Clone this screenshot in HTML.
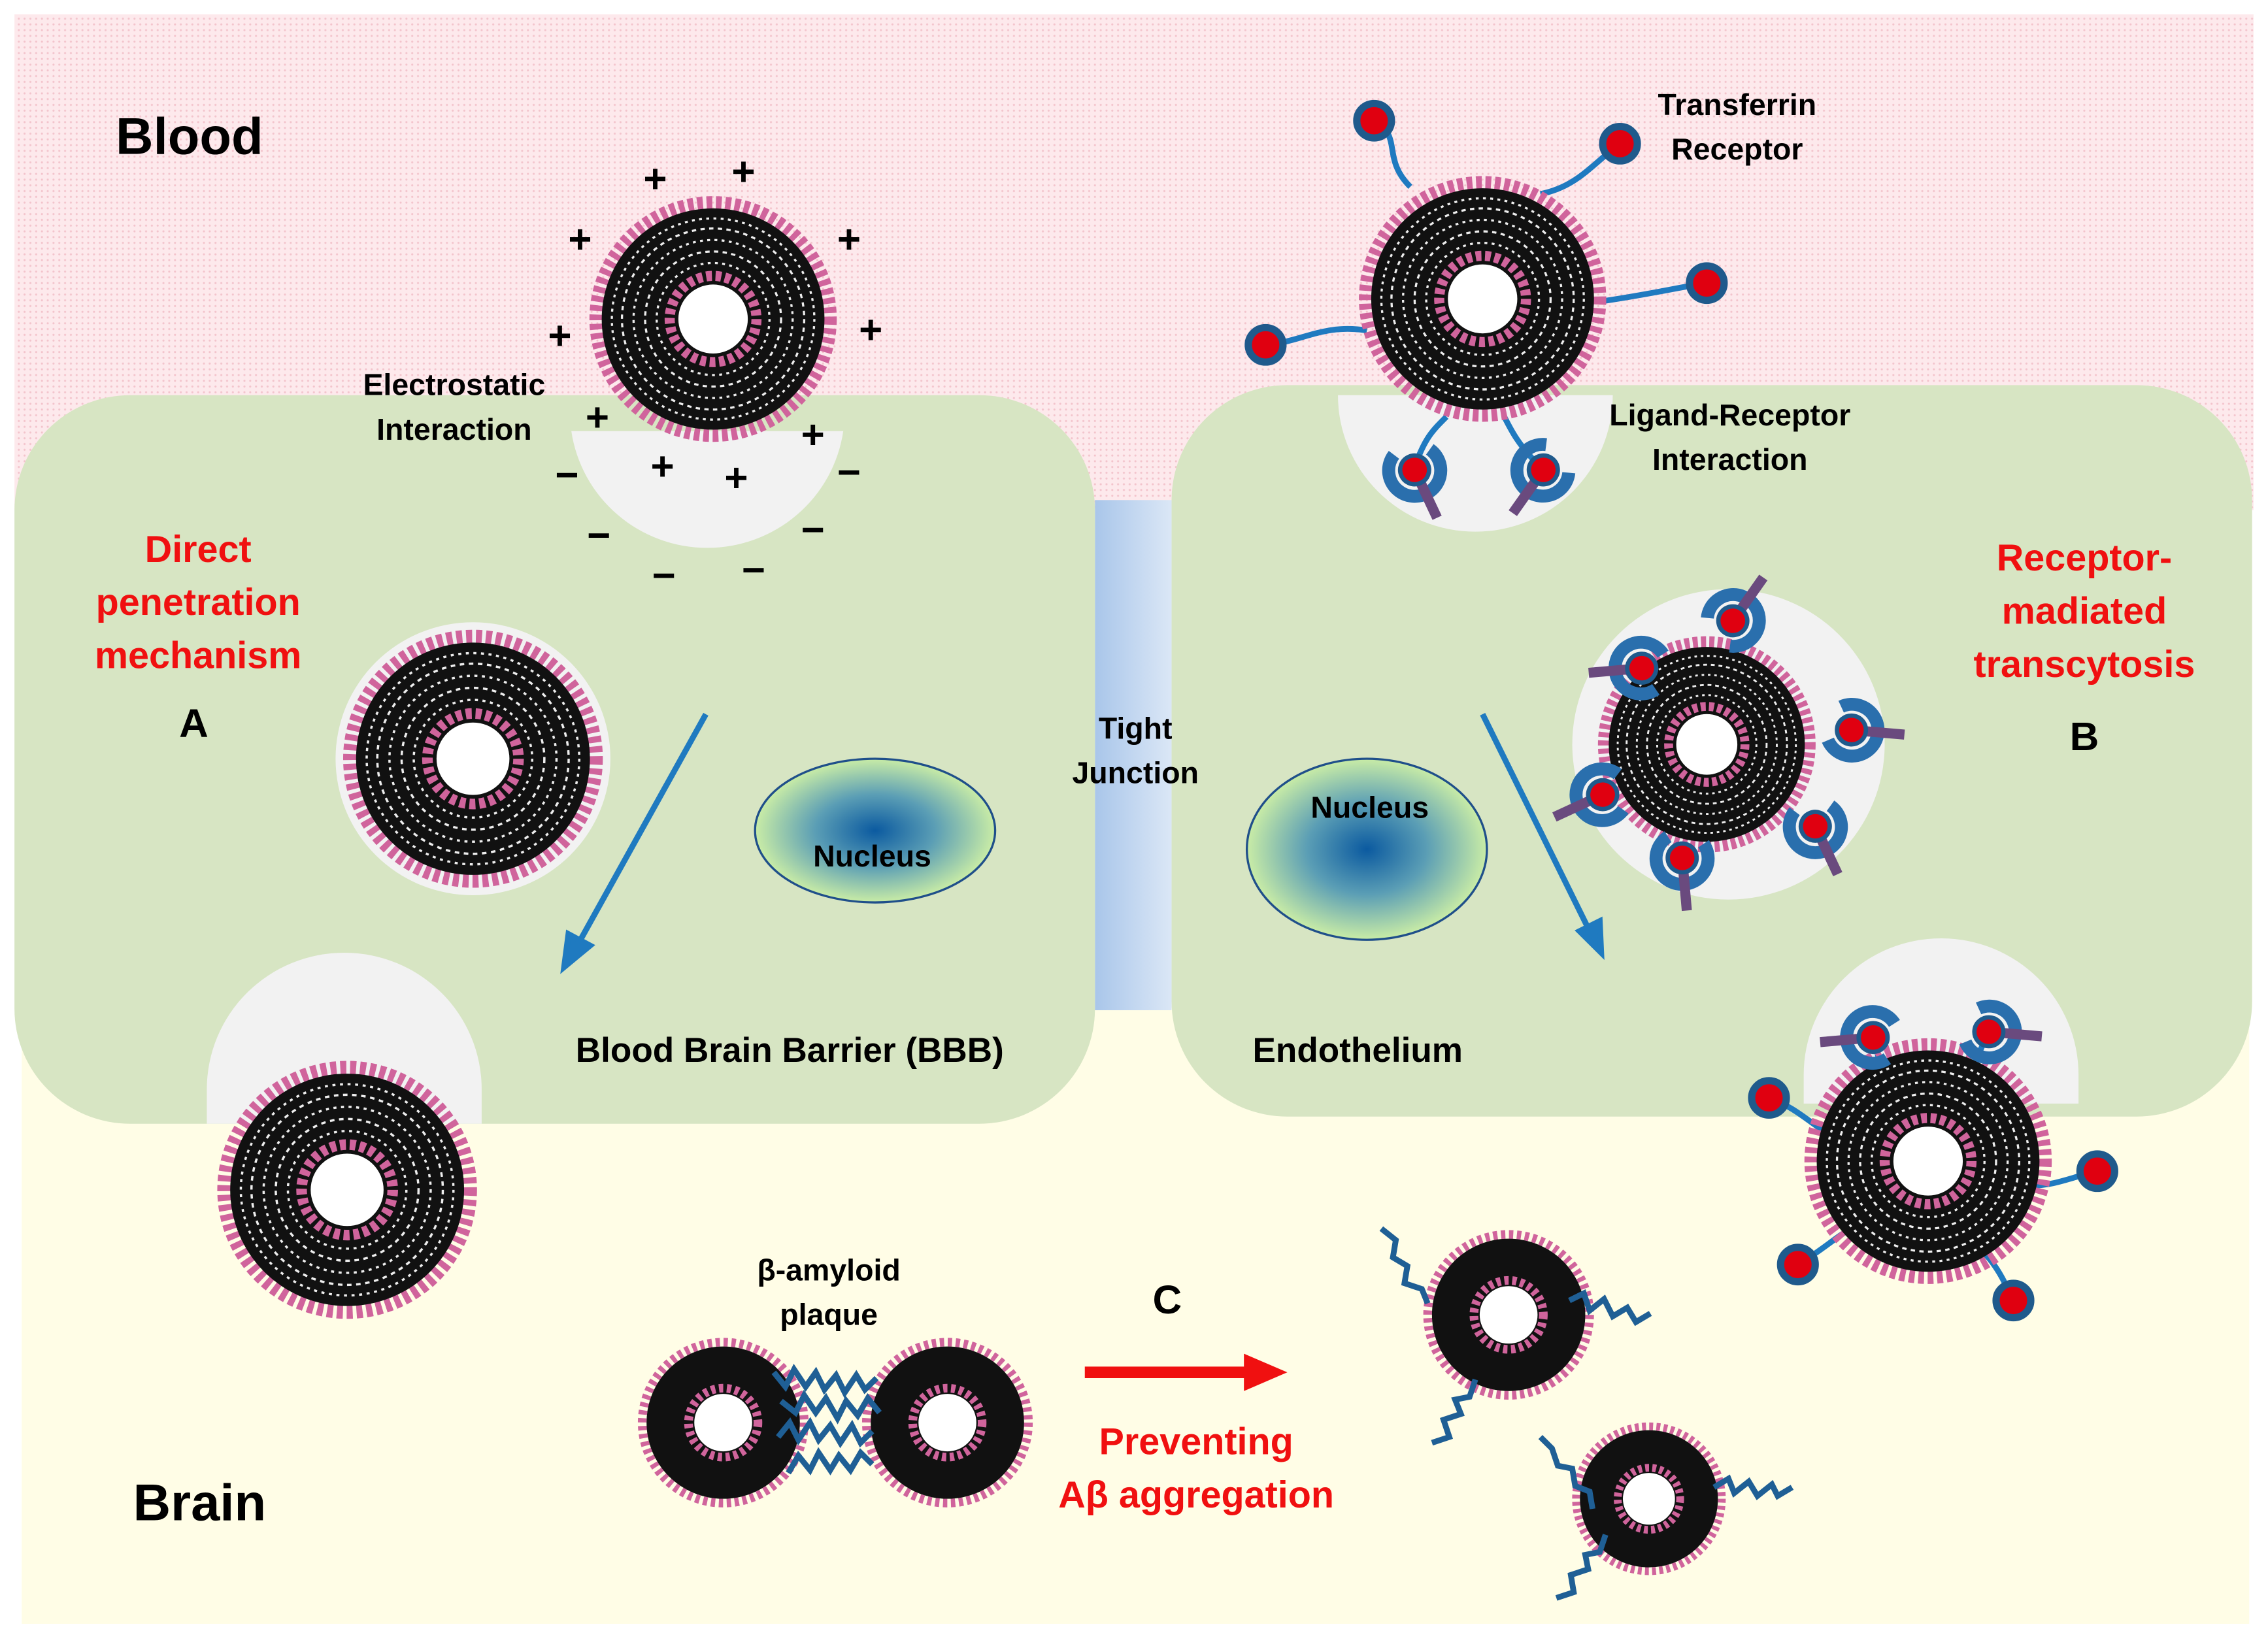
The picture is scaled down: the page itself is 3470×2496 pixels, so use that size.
<!DOCTYPE html>
<html><head><meta charset="utf-8"><style>
html,body{margin:0;padding:0;background:#fff;}
svg{display:block;}
text{font-family:"Liberation Sans",sans-serif;font-weight:bold;}
</style></head><body>
<svg width="3470" height="2496" viewBox="0 0 1568 1135" preserveAspectRatio="none" xmlns="http://www.w3.org/2000/svg">
<defs>
<pattern id="dots" width="4" height="4" patternUnits="userSpaceOnUse"><rect width="4" height="4" fill="#fde9ec"/><circle cx="1" cy="1" r="0.7" fill="#f3c4cc"/></pattern>
<linearGradient id="tj" x1="0" x2="1"><stop offset="0" stop-color="#a9c6ea"/><stop offset="1" stop-color="#dbe7f6"/></linearGradient>
<radialGradient id="nuc"><stop offset="0" stop-color="#0b5aa0"/><stop offset="0.5" stop-color="#5b9eb5"/><stop offset="1" stop-color="#c9eca6"/></radialGradient>
<g id="lip">
<circle r="81" fill="none" stroke="#d0649c" stroke-width="9" stroke-dasharray="4 2.5"/>
<circle r="77" fill="#111"/>
<circle r="70" fill="none" stroke="#eee" stroke-width="1.5" stroke-dasharray="2 3"/>
<circle r="63" fill="none" stroke="#eee" stroke-width="1.5" stroke-dasharray="3 3"/>
<circle r="55" fill="none" stroke="#eee" stroke-width="1.5" stroke-dasharray="2 3"/>
<circle r="47" fill="none" stroke="#eee" stroke-width="1.5" stroke-dasharray="3 3"/>
<circle r="39" fill="none" stroke="#eee" stroke-width="1.5" stroke-dasharray="2 3"/>
<circle r="30" fill="none" stroke="#d0649c" stroke-width="7" stroke-dasharray="4 2.5"/>
<circle r="24" fill="#fff"/>
</g>
<g id="lip2">
<circle r="56" fill="none" stroke="#d0649c" stroke-width="6" stroke-dasharray="3 2.5"/>
<circle r="53" fill="#111"/>
<circle r="24" fill="none" stroke="#d0649c" stroke-width="6" stroke-dasharray="3 2.5"/>
<circle r="20" fill="#fff"/>
</g>
<g id="rd"><circle r="12" fill="#e00010" stroke="#1f5a8c" stroke-width="5"/></g>
<g id="cup"><path d="M-17,-5 A18,18 0 1,0 5,-17" fill="none" stroke="#2a6fad" stroke-width="9"/><line x1="0" y1="0" x2="26" y2="26" stroke="#6a4a7e" stroke-width="7"/><circle r="10" fill="#e00010" stroke="#1f5a8c" stroke-width="3"/></g>
</defs>
<rect width="1568" height="1135" fill="#fff"/>
<rect x="10" y="10" width="1548" height="345" fill="url(#dots)"/>
<rect x="15" y="700" width="1540" height="430" fill="#fffde6"/>
<rect x="757" y="348" width="53" height="355" fill="url(#tj)"/>
<rect x="10" y="275" width="747" height="507" rx="80" fill="#d7e5c3"/>
<rect x="810" y="268" width="747" height="509" rx="80" fill="#d7e5c3"/>
<path d="M395,300 A95,95 0 0,0 583,300 Z" fill="#f2f2f2"/>
<circle cx="327" cy="528" r="95" fill="#f2f2f2"/>
<path d="M143,782 L143,758 A95,95 0 0,1 333,758 L333,782 Z" fill="#f2f2f2"/>
<path d="M925,275 A95,95 0 0,0 1115,275 Z" fill="#f2f2f2"/>
<circle cx="1195" cy="518" r="108" fill="#f2f2f2"/>
<path d="M1247,768 L1247,748 A95,95 0 0,1 1437,748 L1437,768 Z" fill="#f2f2f2"/>
<ellipse cx="605" cy="578" rx="83" ry="50" fill="url(#nuc)" stroke="#1f4f8a" stroke-width="1.5"/>
<ellipse cx="945" cy="591" rx="83" ry="63" fill="url(#nuc)" stroke="#1f4f8a" stroke-width="1.5"/>
<text x="603" y="603" font-size="21" text-anchor="middle">Nucleus</text>
<text x="947" y="569" font-size="21" text-anchor="middle">Nucleus</text>
<use href="#lip" transform="translate(493,222)"/>
<use href="#lip" transform="translate(327,528) scale(1.05)"/>
<use href="#lip" transform="translate(240,828) scale(1.05)"/>
<g fill="none" stroke="#1f7ac0" stroke-width="4">
<path d="M950,84 C970,95 955,110 975,130"/>
<path d="M1120,100 C1100,115 1090,130 1065,135"/>
<path d="M1180,197 C1160,200 1140,205 1105,210"/>
<path d="M875,240 C900,238 915,225 945,230"/>
<path d="M978,325 C985,305 990,300 1000,290"/>
<path d="M1065,325 C1050,310 1045,300 1040,290"/>
</g>
<use href="#lip" transform="translate(1025,208)"/>
<use href="#rd" transform="translate(950,84)"/>
<use href="#rd" transform="translate(1120,100)"/>
<use href="#rd" transform="translate(1180,197)"/>
<use href="#rd" transform="translate(875,240)"/>
<use href="#cup" transform="translate(978,327) rotate(20)"/>
<use href="#cup" transform="translate(1067,327) rotate(80)"/>
<use href="#lip" transform="translate(1180,518) scale(0.88)"/>
<use href="#cup" transform="translate(1135,465) rotate(130)"/>
<use href="#cup" transform="translate(1198,432) rotate(-100)"/>
<use href="#cup" transform="translate(1280,508) rotate(-40)"/>
<use href="#cup" transform="translate(1255,575) rotate(20)"/>
<use href="#cup" transform="translate(1163,597) rotate(40)"/>
<use href="#cup" transform="translate(1108,553) rotate(110)"/>
<g fill="none" stroke="#1f7ac0" stroke-width="4">
<path d="M1295,720 C1300,745 1305,755 1315,770"/>
<path d="M1375,718 C1365,740 1360,750 1355,765"/>
<path d="M1223,764 C1240,770 1250,780 1265,790"/>
<path d="M1450,815 C1430,820 1420,825 1405,825"/>
<path d="M1243,880 C1260,870 1270,860 1280,855"/>
<path d="M1392,905 C1385,890 1380,880 1370,870"/>
</g>
<use href="#lip" transform="translate(1333,808)"/>
<use href="#cup" transform="translate(1295,722) rotate(130)"/>
<use href="#cup" transform="translate(1375,718) rotate(-40)"/>
<use href="#rd" transform="translate(1223,764)"/>
<use href="#rd" transform="translate(1450,815)"/>
<use href="#rd" transform="translate(1243,880)"/>
<use href="#rd" transform="translate(1392,905)"/>
<use href="#lip2" transform="translate(500,990)"/>
<use href="#lip2" transform="translate(655,990)"/>
<g fill="none" stroke="#1f5f95" stroke-width="4">
<path d="M535,955 l8,10 l6,-12 l8,12 l7,-10 l6,12 l8,-10 l6,12 l8,-12 l6,10 l8,-8"/>
<path d="M540,975 l10,8 l6,-12 l8,12 l7,-10 l8,14 l6,-12 l8,10 l7,-12 l8,10"/>
<path d="M538,1000 l8,-10 l6,12 l8,-12 l6,12 l8,-10 l7,12 l8,-12 l6,12 l8,-8"/>
<path d="M545,1025 l7,-12 l8,10 l6,-12 l8,12 l6,-10 l8,10 l7,-12 l8,8"/>
</g>
<use href="#lip2" transform="translate(1043,915)"/>
<use href="#lip2" transform="translate(1140,1043) scale(0.9)"/>
<g fill="none" stroke="#1f5f95" stroke-width="4">
<path d="M955,855 l10,8 l-2,12 l10,6 l-2,12 l12,4 l4,10"/>
<path d="M1085,905 l10,-5 l4,12 l10,-8 l6,12 l10,-6 l6,10 l10,-6"/>
<path d="M1020,960 l-4,12 l-10,2 l4,10 l-12,4 l4,12 l-12,4"/>
<path d="M1065,1000 l8,8 l4,12 l10,2 l2,12 l10,4 l2,12"/>
<path d="M1185,1035 l10,-6 l4,10 l10,-8 l6,10 l10,-8 l4,8 l10,-6"/>
<path d="M1110,1068 l-4,12 l-10,2 l2,10 l-12,4 l2,12 l-12,4"/>
</g>
<g stroke="#1f7ac0" stroke-width="4" fill="#1f7ac0">
<line x1="488" y1="497" x2="398" y2="660"/>
<polygon points="390,673 393,650 408,658"/>
<line x1="1025" y1="497" x2="1100" y2="650"/>
<polygon points="1107,663 1092,648 1106,641"/>
</g>
<line x1="750" y1="955" x2="865" y2="955" stroke="#f01010" stroke-width="8"/>
<polygon points="890,955 860,942 860,968" fill="#f01010"/>
<g font-size="28" text-anchor="middle">
<text x="453" y="134">+</text><text x="514" y="129">+</text><text x="401" y="176">+</text><text x="587" y="176">+</text>
<text x="387" y="243">+</text><text x="602" y="239">+</text><text x="413" y="300">+</text><text x="562" y="312">+</text>
<text x="458" y="334">+</text><text x="509" y="342">+</text>
<text x="392" y="340">−</text><text x="587" y="338">−</text><text x="414" y="382">−</text><text x="562" y="378">−</text>
<text x="459" y="410">−</text><text x="521" y="406">−</text>
</g>
<text x="80" y="107" font-size="36">Blood</text>
<text x="92" y="1058" font-size="36">Brain</text>
<g font-size="21" text-anchor="middle">
<text x="314" y="275">Electrostatic</text><text x="314" y="306">Interaction</text>
<text x="1201" y="80">Transferrin</text><text x="1201" y="111">Receptor</text>
<text x="1196" y="296">Ligand-Receptor</text><text x="1196" y="327">Interaction</text>
<text x="785" y="514">Tight</text><text x="785" y="545">Junction</text>
<text x="573" y="891">β-amyloid</text><text x="573" y="922">plaque</text>
</g>
<text x="398" y="739" font-size="24">Blood Brain Barrier (BBB)</text>
<text x="866" y="739" font-size="24">Endothelium</text>
<g font-size="26" fill="#f01010" text-anchor="middle">
<text x="137" y="391">Direct</text><text x="137" y="428">penetration</text><text x="137" y="465">mechanism</text>
<text x="1441" y="397">Receptor-</text><text x="1441" y="434">madiated</text><text x="1441" y="471">transcytosis</text>
<text x="827" y="1012">Preventing</text><text x="827" y="1049">Aβ aggregation</text>
</g>
<g font-size="28" text-anchor="middle">
<text x="134" y="513">A</text><text x="1441" y="522">B</text><text x="807" y="914">C</text>
</g>
</svg>
</body></html>
